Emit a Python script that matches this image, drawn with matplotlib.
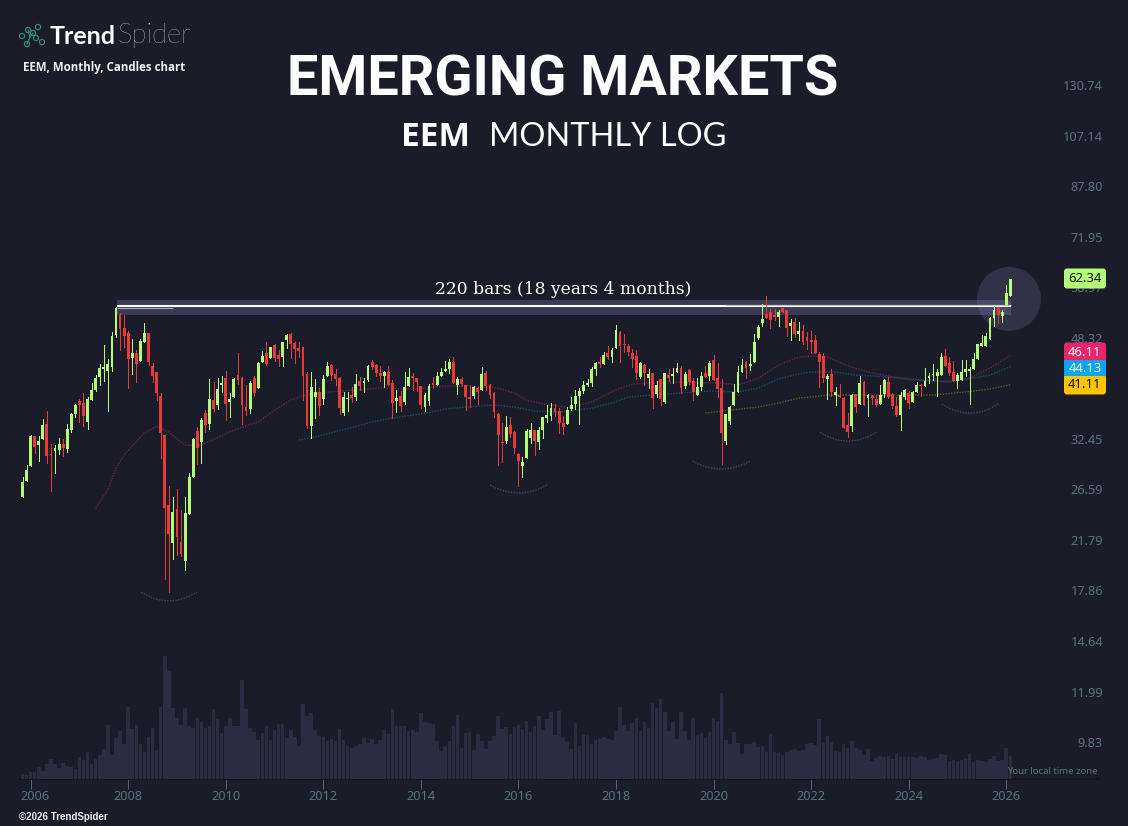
"""
    EEM monthly candles, TrendSpider look.
"""
import matplotlib
matplotlib.use("Agg")
import matplotlib.pyplot as plt
from matplotlib.patches import FancyBboxPatch, Rectangle, Circle
from matplotlib.transforms import ScaledTranslation
import numpy as np
import pandas as pd

# monthly candles, Nov 2005 -> Feb 2026
opens = [26.45,28.13,29.89,33.59,32.42,33.23,35.22,31.29,31.67,31.79,
    32.59,31.92,34.39,36.63,38.55,38.25,35.49,38.70,40.21,42.39,
    43.68,43.39,44.08,50.00,54.10,51.39,50.40,45.66,46.56,45.14,
    48.63,50.40,44.26,43.22,39.31,33.72,25.60,22.04,25.20,22.13,
    20.53,24.71,28.58,34.25,32.80,36.77,35.22,38.70,37.95,41.07,
    42.22,38.40,39.16,42.72,42.22,37.65,37.36,42.22,40.58,44.96,
    46.56,45.66,48.08,46.21,45.85,49.02,50.20,48.44,47.50,47.69,
    42.90,34.94,39.16,39.96,38.85,42.55,44.44,42.90,42.22,36.77,
    38.85,39.47,39.16,41.72,41.38,41.88,44.96,44.44,43.05,42.55,
    43.22,41.38,38.55,39.31,38.40,40.90,42.55,42.22,40.90,37.65,
    38.55,41.38,41.07,42.55,43.39,43.73,44.96,41.07,42.05,41.07,
    39.16,39.31,40.58,40.26,43.05,41.07,39.80,36.63,32.80,32.93,
    35.08,34.12,31.29,29.85,30.80,33.32,34.39,32.80,34.39,36.06,
    36.34,37.50,37.06,35.36,35.22,37.36,38.10,39.31,40.10,41.07,
    41.38,43.73,44.96,44.61,46.56,45.85,47.50,50.60,48.26,47.88,
    46.56,46.03,42.39,44.44,42.22,43.05,39.64,42.05,38.40,42.72,
    42.55,43.22,43.91,40.90,43.56,41.72,39.47,40.73,43.05,42.55,
    45.31,42.22,40.58,32.93,35.63,37.95,39.96,43.22,44.96,44.26,
    44.96,49.41,52.42,54.30,54.74,54.10,53.67,55.60,55.17,51.80,
    52.62,50.20,50.79,49.60,49.02,49.02,46.39,46.03,42.05,42.90,
    39.47,39.47,39.01,35.08,34.94,39.64,38.10,41.55,39.01,39.31,
    38.85,38.10,39.64,41.55,39.64,37.80,36.49,39.16,39.80,38.40,
    39.96,41.07,40.90,42.22,42.72,42.55,42.72,46.03,44.79,43.22,
    41.72,41.88,43.22,43.39,43.73,45.49,47.88,47.88,49.22,53.46,
    55.60,53.93,55.99,58.31]
closes = [28.02,29.38,33.59,32.21,32.93,35.08,31.09,31.21,32.05,32.59,
    32.05,34.53,36.63,37.95,37.95,36.34,38.85,40.26,42.27,43.91,
    44.08,44.61,49.80,55.60,51.19,49.80,45.49,46.56,44.61,48.82,
    50.40,44.96,42.55,39.80,33.99,25.30,22.83,24.91,22.57,21.10,
    24.81,28.58,33.19,32.05,35.77,35.08,38.85,37.36,40.42,41.38,
    38.10,38.85,42.05,41.88,37.95,37.06,41.38,39.80,44.79,46.03,
    44.61,47.69,45.66,45.49,48.63,50.00,48.26,47.32,46.95,42.55,
    34.94,40.73,39.96,37.80,42.05,44.26,42.72,42.05,37.50,39.16,
    39.01,39.01,41.22,40.90,41.72,44.26,44.08,43.05,42.55,43.22,
    41.07,38.25,39.01,37.80,40.73,42.39,42.22,41.55,37.95,39.47,
    40.90,41.07,42.55,43.22,43.73,44.96,41.38,42.05,41.22,39.16,
    38.85,40.73,39.96,42.90,40.90,39.47,36.91,33.72,32.72,34.80,
    33.90,32.05,30.44,30.33,34.25,34.39,32.93,34.39,36.20,36.49,
    37.50,36.91,35.36,34.80,37.21,37.95,39.31,40.10,41.07,41.38,
    43.73,44.79,44.61,46.21,45.85,47.13,50.99,47.88,48.08,46.76,
    45.49,43.05,44.79,43.05,42.90,39.01,41.07,38.85,43.05,42.22,
    42.90,43.91,40.58,42.90,41.55,39.96,40.73,42.55,42.39,44.79,
    41.88,40.42,33.99,36.63,37.65,39.96,43.22,44.44,43.91,44.61,
    48.63,51.59,53.25,53.46,53.04,53.67,54.74,54.74,51.39,52.42,
    50.20,50.79,48.63,48.82,48.63,46.56,44.96,42.22,42.55,39.96,
    39.96,39.16,34.66,34.12,39.47,37.65,41.38,37.95,39.47,39.01,
    37.95,39.47,41.88,39.16,37.80,36.49,39.47,40.26,38.25,39.96,
    41.07,40.90,41.72,42.55,42.90,43.22,45.85,44.26,43.05,41.72,
    42.72,43.22,43.73,43.73,45.49,48.26,48.44,49.80,53.46,55.17,
    54.10,54.74,59.00,62.34]
highs = [28.62,29.93,33.72,33.59,33.59,35.91,37.06,32.55,32.42,33.32,
    33.19,35.22,36.72,38.10,38.80,39.85,39.21,41.38,42.72,44.61,
    48.08,45.49,50.66,55.75,54.45,54.10,50.79,49.15,47.13,49.15,
    52.42,50.40,44.73,43.22,39.80,33.72,27.58,26.41,27.26,25.10,
    26.41,29.03,33.32,34.80,36.06,37.21,42.05,41.55,42.22,42.55,
    43.39,39.80,42.22,46.56,42.39,41.07,41.72,42.55,44.96,46.95,
    48.63,47.69,48.26,47.13,48.63,50.20,50.40,48.63,48.63,47.69,
    43.22,43.22,42.05,40.58,42.72,44.96,44.61,43.73,42.39,39.96,
    39.96,40.73,42.90,42.39,42.22,44.44,45.31,44.61,44.26,43.39,
    44.26,41.88,40.26,40.10,43.22,43.91,43.05,42.22,40.90,39.80,
    41.22,42.39,43.22,43.91,45.14,45.49,45.85,42.39,42.39,41.07,
    41.07,40.90,40.73,44.08,43.39,41.22,39.96,36.77,35.36,36.34,
    36.20,34.25,31.43,30.92,34.53,35.36,34.39,34.80,36.20,37.95,
    38.25,38.10,37.50,36.34,37.65,39.16,40.26,40.58,41.72,42.05,
    44.08,44.96,45.85,46.76,47.88,47.50,52.00,50.79,50.20,48.26,
    47.32,47.13,44.96,44.61,43.73,43.05,41.72,42.05,43.05,43.73,
    43.91,44.79,44.26,43.22,43.73,42.22,42.22,43.22,44.26,45.14,
    46.21,44.79,42.05,36.63,37.80,41.22,44.26,45.49,45.14,46.39,
    50.20,52.00,56.50,58.31,55.39,55.39,55.17,55.60,55.17,53.25,
    53.46,52.62,52.00,50.60,50.79,50.00,46.76,46.56,42.90,43.73,
    40.73,41.22,39.16,36.77,39.64,39.64,42.55,41.72,39.64,39.47,
    39.47,41.07,42.05,42.39,39.80,39.16,39.96,40.42,40.10,40.10,
    41.55,41.22,43.91,43.05,44.61,43.73,46.56,47.32,45.85,45.14,
    43.05,45.31,45.31,44.08,46.56,48.26,50.00,50.40,53.67,56.23,
    55.85,55.17,60.88,62.34]
lows = [26.45,28.13,29.89,31.47,30.44,33.23,30.25,27.08,29.08,31.30,
    31.06,31.58,34.17,36.25,35.49,34.94,34.57,38.70,40.10,41.07,
    41.72,37.11,43.45,49.67,47.13,47.75,40.63,42.90,41.55,45.14,
    48.63,44.44,41.55,38.70,30.80,19.13,18.17,20.69,21.02,20.94,
    19.81,24.71,28.58,30.09,30.21,34.12,34.53,37.06,37.36,39.96,
    35.77,36.20,39.16,41.22,35.22,36.49,36.77,39.31,40.58,44.96,
    44.44,45.66,45.14,44.26,44.26,47.50,45.66,44.79,45.85,38.70,
    34.66,33.32,36.06,36.49,38.10,42.55,41.88,41.07,36.63,36.49,
    37.06,38.40,38.70,40.26,39.96,41.72,43.73,42.55,41.72,40.73,
    41.07,36.06,36.91,37.06,38.10,40.90,40.26,40.10,37.50,37.06,
    37.95,40.58,41.07,42.55,43.39,43.05,41.38,39.64,40.90,37.21,
    37.65,39.01,38.10,40.26,40.26,39.01,36.20,29.97,30.33,32.68,
    33.46,31.43,27.58,28.58,30.80,32.68,31.17,31.92,33.32,35.49,
    35.77,36.34,33.99,33.90,35.22,37.21,37.36,35.22,39.80,40.90,
    40.90,42.72,44.08,44.61,45.49,44.96,47.50,44.96,46.76,46.21,
    44.08,42.05,42.22,41.07,40.58,37.50,39.16,37.95,38.25,41.72,
    41.38,43.22,39.80,40.58,41.22,38.70,39.47,40.26,42.39,41.88,
    41.88,39.16,30.09,32.55,35.22,37.95,39.96,43.22,42.22,43.56,
    44.96,49.22,51.80,53.46,51.39,53.04,51.80,54.74,49.80,49.02,
    49.60,49.02,48.26,47.32,46.56,46.56,40.73,41.55,38.85,39.31,
    37.95,39.16,34.66,33.46,34.25,36.91,38.10,37.95,36.34,38.10,
    37.80,38.10,39.16,39.01,37.50,36.34,34.39,38.85,37.50,38.40,
    39.96,39.31,40.90,41.38,41.88,39.31,42.72,44.26,42.72,41.72,
    40.58,41.88,42.55,38.10,43.73,45.49,47.88,47.88,49.22,51.80,
    52.42,52.62,55.99,58.20]
# volume, tens of millions of shares (rough)
volumes = [15,12,21,21,36,24,45,60,45,33,48,39,36,30,66,57,81,45,60,72,
    90,162,72,123,144,105,216,150,162,105,81,126,153,87,216,369,324,213,183,162,
    213,159,153,183,171,153,159,210,180,138,159,183,159,159,297,210,153,141,117,138,
    159,117,147,165,165,123,147,126,99,225,189,198,147,129,126,114,120,114,150,117,
    99,93,99,105,123,108,120,105,117,147,135,210,159,159,159,144,147,142,198,171,
    168,165,114,84,99,114,159,192,93,138,141,87,135,114,90,114,129,189,150,156,
    135,156,162,150,174,141,159,189,147,180,201,132,204,126,111,90,168,99,135,132,
    105,117,120,126,120,117,144,216,162,144,168,183,144,171,153,228,213,240,201,144,
    171,120,201,144,117,183,132,138,123,141,183,174,258,117,105,141,108,75,105,105,
    111,96,99,81,135,81,78,72,81,87,90,85,87,105,108,102,180,108,129,111,
    84,81,105,93,114,93,87,72,90,54,63,69,66,69,60,75,66,66,66,66,
    63,69,66,57,60,63,75,72,54,57,54,57,60,75,51,57,54,51,60,69,
    54,57,93,69]

# moving averages: month number (1 = first candle) and level
ma_red_months = [19,22,24,26,31,34,37,41,45,51,55,59,63,67,71,77,84,89,97,105,110,117,122,125,130,136,
    141,147,151,160,167,173,177,182,187,192,195,199,204,209,215,222,229,234,239,244]
ma_red_values = [25.3,27.15,29.6,31.2,34.0,34.9,34.1,32.4,32.4,33.9,34.8,35.5,37.2,38.7,39.6,40.0,40.3,40.6,40.4,40.9,40.9,40.7,39.8,38.7,38.0,37.6,
    38.4,40.3,41.2,41.55,41.4,41.4,41.07,42.2,44.4,45.85,46.0,45.85,44.3,43.2,42.4,41.9,41.7,42.2,43.9,46.11]
ma_blue_months = [69,74,81,87,92,99,105,110,117,122,127,132,136,141,146,150,156,163,170,177,182,187,192,195,197,201,206,214,220,229,235,239,244]
ma_blue_values = [33.06,33.6,34.6,35.5,36.06,36.63,37.36,37.65,37.95,37.65,37.06,36.91,37.06,37.5,38.25,39.16,39.47,39.8,40.1,39.96,40.58,42.05,42.9,43.22,43.2,43.2,42.72,42.39,41.88,41.55,42.2,42.72,44.13]
ma_yellow_months = [169,175,182,187,192,195,199,209,217,225,233,239,244]
ma_yellow_values = [36.77,37.2,37.65,38.25,39.0,39.16,39.47,39.47,39.47,39.47,39.96,40.42,41.11]

# hand drawn arcs under the lows: start, bottom, end
arc_months = [[30.2,37.3,43.9],[116,122.6,130],[165.9,173,180],[197.2,203.8,211],[227.2,234,241]]
arc_prices = [[18.17,17.55,18.17],[27.7,26.85,27.7],[30.44,29.5,30.44],[34.1,32.93,34.1],[38.1,36.77,38.1]]

price_ticks = [130.74,107.14,87.80,71.95,58.97,48.32,32.45,26.59,21.79,17.86,14.64,11.99,9.83]
last_labels = ["62.34", "46.11", "44.13", "41.11"]
last_colors = ["#b5fc7b", "#e8256b", "#0ea5ee", "#ffc400"]
last_text_colors = ["#111111", "#ffffff", "#ffffff", "#111111"]

BG = "#1b1c2a"
GREEN = "#b5fc7b"
RED = "#e93a3a"
VOL = "#2b2c42"
AXIS_TXT = "#587280"
FONT = "Noto Sans"

plt.rcParams['font.family'] = [FONT, 'DejaVu Sans']

fig = plt.figure(figsize=(11.28, 8.26), dpi=100, facecolor=BG)
ax = fig.add_axes([0, 47/826, 1, 779/826], facecolor=BG)
ax_vol = fig.add_axes([0, 47/826, 1, 123/826], sharex=ax)
ax_vol.patch.set_alpha(0)
ov = fig.add_axes([0, 0, 1, 1])
ov.patch.set_alpha(0)
ov.set_xlim(0, 1128)
ov.set_ylim(826, 0)
ov.axis('off')

dates = pd.date_range("2005-11-01", periods=len(closes), freq="MS")
x = np.arange(len(closes))
opens = np.array(opens)
closes = np.array(closes)
highs = np.array(highs)
lows = np.array(lows)

# scale: 4.065 px a month, log price
ax.set_xlim(-22.5/4.065, (1128-22.5)/4.065)
ax.set_yscale('log')
ax.set_ylim(8.70, 187.1)
ax.minorticks_off()

# volume
ax_vol.bar(x, volumes, width=0.88, color=VOL, antialiased=False, zorder=1)
ax_vol.set_ylim(0, 369)
ax_vol.axis('off')

# circle and band behind the candles
ax.add_patch(Circle((1009, 299), 32, facecolor="#8e8ac0", alpha=0.2, lw=0, zorder=0.5, transform=ov.transData))
ax.add_patch(Rectangle((23.25, 54.1), 220, 3.29, facecolor="#8282b9", alpha=0.3, lw=0, zorder=1))
ax.hlines(55.95, 23.25, 243.25, color="#ffffff", lw=1.5, zorder=2)
ax.hlines(55.6, 23.25, 37, color="#a8a8b2", lw=0.8, zorder=2)
ax.hlines(56.2, 173, 243.25, color="#c8c8d2", lw=0.8, zorder=2)

# moving averages
ax.plot(np.array(ma_red_months)-1, ma_red_values, color="#6a2748", lw=1, ls=(0, (1, 1)), zorder=2)
ax.plot(np.array(ma_blue_months)-1, ma_blue_values, color="#1d4d6b", lw=1, ls=(0, (1, 1)), zorder=2)
ax.plot(np.array(ma_yellow_months)-1, ma_yellow_values, color="#6a5a24", lw=1, ls=(0, (1, 1)), zorder=2)

# arcs
for m, p in zip(arc_months, arc_prices):
    coef = np.polyfit(np.array(m)-1, np.log(p), 2)
    xx = np.linspace(m[0]-1, m[2]-1, 40)
    ax.plot(xx, np.exp(np.polyval(coef, xx)), color="#43456a", lw=1, ls=(0, (1, 1)), zorder=2)

# candles
up = closes >= opens
colors = np.where(up, GREEN, RED)
wicks = ax.vlines(x, lows, highs, colors=colors, lw=0.7, antialiased=False, zorder=3)
wicks.set_snap(True)
ax.bar(x, np.abs(closes-opens), bottom=np.minimum(opens, closes), width=0.7, color=colors, lw=0, antialiased=False, zorder=4)

# axes
for name in ['top', 'left', 'right']:
    ax.spines[name].set_visible(False)
ax.spines['bottom'].set_color("#15151d")
ax.spines['bottom'].set_linewidth(1.5)
ax.spines['bottom'].set_bounds(-0.5, (1098-22.5)/4.065)
ax.spines['bottom'].set_zorder(6)
year_ticks = [i for i, d in enumerate(dates) if d.month == 1 and d.year % 2 == 0]
ax.set_xticks(year_ticks)
ax.set_xticklabels([str(dates[i].year) for i in year_ticks], fontsize=9.2, color=AXIS_TXT)
ax.tick_params(axis='x', length=7.2, width=0.72, color="#4c6a78", pad=0.5)
lab0 = ax.get_xticklabels()[0]
lab0.set_transform(lab0.get_transform() + ScaledTranslation(4/100, 0, fig.dpi_scale_trans))

# price labels sit 6 px above their level
ax.yaxis.tick_right()
ax.set_yticks(price_ticks)
ax.set_yticklabels(["%.2f" % p for p in price_ticks], fontsize=9.2, color=AXIS_TXT, ha='right')
ax.tick_params(axis='y', length=0, pad=0)
for lab in ax.get_yticklabels():
    lab.set_transform(lab.get_transform() + ScaledTranslation(-25/100, 6/100, fig.dpi_scale_trans))
ax.minorticks_off()

ov.text(1098, 772, "Your local time zone", color=AXIS_TXT, fontsize=6.9, ha='right', va='center')

# last value pills, the lower three are stacked
pill_tops = [270, 344, 360, 376]
pill_bottoms = [287, 361, 376, 393]
for i in [0, 1, 3, 2]:
    style = "round,pad=1.5,rounding_size=3" if i != 2 else "square,pad=0"
    pad = 1.5 if i != 2 else 0
    ov.add_patch(FancyBboxPatch((1064+pad, pill_tops[i]), 42-2*pad, pill_bottoms[i]-pill_tops[i], boxstyle=style, facecolor=last_colors[i], lw=0, zorder=5))
    ov.text(1085, (pill_tops[i]+pill_bottoms[i])/2, last_labels[i], color=last_text_colors[i], fontsize=9.4, ha='center', va='center', zorder=6)

# titles
ov.text(563, 81, "EMERGING MARKETS", color="#ffffff", fontsize=40.2, family="Roboto", weight='bold', ha='center', va='center')
ov.text(435, 137, "EEM", color="#ffffff", fontsize=24, family="Open Sans", weight='bold', ha='center', va='center')
ov.text(607.5, 137, "MONTHLY LOG", color="#ffffff", fontsize=23.5, family="Lato", weight='normal', ha='center', va='center')
ov.text(563.5, 289, "220 bars (18 years 4 months)", color="#ffffff", fontsize=12.3, family="DejaVu Serif", ha='center', va='center')

# logo
ov.text(50, 36, "Trend", color="#ffffff", fontsize=18, family="Lato", weight='bold', ha='left', va='center')
ov.text(118, 36, "Spider", color="#ffffff", fontsize=19.7, family="Lato", weight='light', ha='left', va='center')
nodes_x = [22, 27, 28, 38, 33, 36, 42]
nodes_y = [36, 44, 30, 27, 33, 38, 42]
ov.scatter(nodes_x, nodes_y, s=14, facecolors='none', edgecolors="#37937a", lw=0.8)
ov.plot([28, 30, 27], [30, 37, 44], color="#37937a", lw=0.8)
ov.plot([30, 33], [37, 33], color="#37937a", lw=0.8)
ov.text(23, 68, "EEM, Monthly, Candles chart", color="#f0f0f0", fontsize=8.3, family="Open Sans", weight='bold', ha='left', va='center')
ov.text(19, 817, "©2026 TrendSpider", color="#f0f0f0", fontsize=7, family="Liberation Sans", weight='bold', ha='left', va='center')

fig.savefig("out.png", dpi=100, facecolor=BG)
